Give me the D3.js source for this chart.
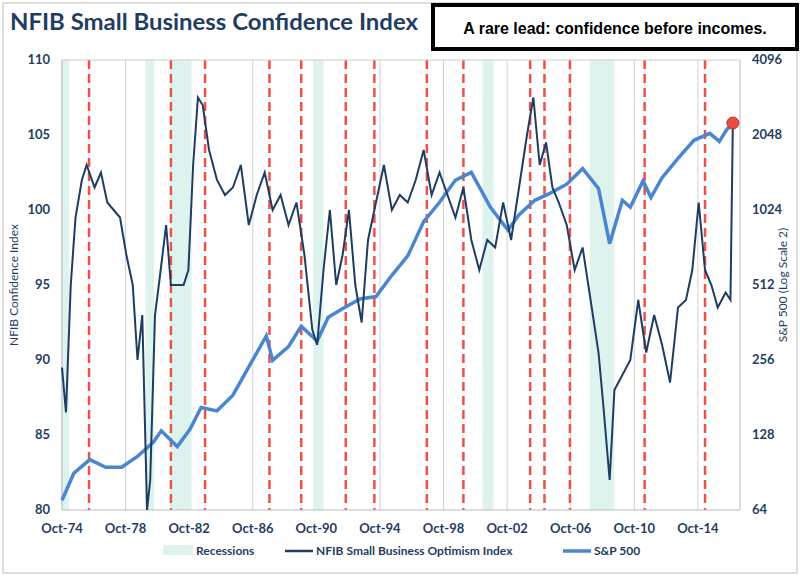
<!DOCTYPE html>
<html><head><meta charset="utf-8">
<script src="https://cdn.jsdelivr.net/npm/d3@7"></script>
<style>
body{margin:0;background:#fff;font-family:Lato,"Open Sans",sans-serif;}
</style></head><body>
<svg id="chart" width="800" height="576"></svg>
<script>
// decimal years
const recessions = [[1973.9, 1975.2], [1980.0, 1980.55], [1981.55, 1982.9], [1990.55, 1991.2], [2001.2, 2001.9], [2007.95, 2009.5]];
const redLines = [1976.45, 1981.6, 1983.75, 1987.8, 1989.8, 1992.6, 1994.4, 1997.7, 2000.0, 2004.2, 2005.1, 2006.7, 2011.4, 2015.2];

const nfibDates = [1974.75,1975.0,1975.3,1975.6,1976,1976.3,1976.8,1977.2,1977.6,1978,1978.4,1978.8,1979.2,1979.5,1979.8,1980.1,1980.3,1980.6,1980.9,1981.3,1981.6,1982,1982.4,1982.7,1983,1983.3,1983.6,1984,1984.5,1985,1985.5,1986,1986.5,1987,1987.5,1988,1988.5,1989,1989.5,1990,1990.5,1990.8,1991.2,1991.6,1992,1992.4,1992.8,1993.2,1993.6,1994,1994.5,1995,1995.5,1996,1996.5,1997,1997.5,1998,1998.5,1999,1999.5,2000,2000.5,2001,2001.5,2002,2002.5,2003,2003.5,2004,2004.4,2004.8,2005.2,2005.6,2006,2006.5,2007,2007.5,2008,2008.5,2008.8,2009.2,2009.5,2010,2010.5,2011,2011.5,2012,2012.5,2013,2013.5,2014,2014.4,2014.8,2015.2,2015.6,2016,2016.5,2016.8,2016.95];
const nfibValues = [89.5,86.5,95,99.5,102,103,101.5,102.5,100.5,100,99.5,97,95,90,93,80,82,93,95.5,99,95,95,95,96,103,107.5,107,104,102,101,101.5,103,99,101,102.5,100,101,99,100.5,97,92,91,96,100,95,97,100,95,92.5,98,100.5,103,100,101,100.5,102,104,101,102.5,101,99.5,101.5,98,96,98,97.5,100.5,98,101.5,105,107.5,103,104.5,101.5,100.5,99,96,97.5,94,90.5,87,82,88,89,90,94,90.5,93,91,88.5,93.5,94,96,100.5,96,95,93.5,94.5,94,105.8];

const spxDates = [1974.75,1975.5,1976.5,1977.5,1978.5,1979.5,1980.5,1981,1982,1982.8,1983.5,1984.5,1985.5,1986.5,1987.6,1988,1989,1989.8,1990.8,1991.5,1992.5,1993.5,1994.5,1995.5,1996.5,1997.5,1998.5,1999.5,2000.5,2001.7,2002.8,2003.5,2004.5,2005.5,2006.5,2007.5,2008.5,2009.2,2010,2010.5,2011.3,2011.8,2012.5,2013.5,2014.5,2015.5,2016.1,2016.6,2016.95];
const spxValues = [70,90,102,95,95,105,120,133,115,135,165,160,185,240,320,255,290,350,305,380,415,450,460,560,670,920,1100,1350,1450,1050,850,980,1120,1200,1300,1500,1250,750,1120,1050,1340,1150,1380,1650,1950,2080,1930,2170,2240];

const xTicks = [1974.75,1978.75,1982.75,1986.75,1990.75,1994.75,1998.75,2002.75,2006.75,2010.75,2014.75];
const xTickLabels = ["Oct-74","Oct-78","Oct-82","Oct-86","Oct-90","Oct-94","Oct-98","Oct-02","Oct-06","Oct-10","Oct-14"];
const leftTicks = [80,85,90,95,100,105,110];
const rightTicks = [64,128,256,512,1024,2048,4096];

const svg = d3.select("#chart");
const m = {left: 62, right: 740, top: 60, bottom: 510};
const navy = "#1f3d63", blue = "#4a86cf";

svg.append("rect").attr("x",3).attr("y",3).attr("width",794).attr("height",570)
  .attr("fill","#fff").attr("stroke","#bbb");

const x = d3.scaleLinear().domain([1974.75, 2017.4]).range([m.left, m.right]);
const yL = d3.scaleLinear().domain([80,110]).range([m.bottom, m.top]);
const yR = d3.scaleLog().base(2).domain([64,4096]).range([m.bottom, m.top]);

// vertical grid
svg.append("g").selectAll("line").data(xTicks).join("line")
  .attr("x1", d => x(d)).attr("x2", d => x(d)).attr("y1", m.top).attr("y2", m.bottom)
  .attr("stroke", "#d0d0d0");

// recessions
svg.append("g").selectAll("rect").data(recessions).join("rect")
  .attr("x", d => x(Math.max(d[0], 1974.75))).attr("width", d => x(d[1]) - x(Math.max(d[0], 1974.75)))
  .attr("y", m.top).attr("height", m.bottom - m.top).attr("fill", "#dff3ee");

// red dashed lines
svg.append("g").selectAll("line").data(redLines).join("line")
  .attr("x1", d => x(d)).attr("x2", d => x(d)).attr("y1", m.top).attr("y2", m.bottom)
  .attr("stroke", "#f0504a").attr("stroke-width", 2.5).attr("stroke-dasharray", "9,5");

// axes lines
svg.append("line").attr("x1", m.left).attr("x2", m.right).attr("y1", m.bottom).attr("y2", m.bottom).attr("stroke", "#bbb");
svg.append("line").attr("x1", m.left).attr("x2", m.left).attr("y1", m.top).attr("y2", m.bottom).attr("stroke", "#bbb");
svg.append("line").attr("x1", m.right).attr("x2", m.right).attr("y1", m.top).attr("y2", m.bottom).attr("stroke", "#bbb");
svg.append("line").attr("x1", m.left).attr("x2", m.right).attr("y1", m.top).attr("y2", m.top).attr("stroke", "#ccc");

const txt = (sel) => sel.attr("fill", navy).attr("font-weight", "bold").attr("font-size", 13);

svg.append("g").selectAll("text").data(leftTicks).join("text")
  .attr("x", 50).attr("y", d => yL(d) + 4).attr("text-anchor", "end").text(d => d).call(txt);
svg.append("g").selectAll("text").data(rightTicks).join("text")
  .attr("x", 752).attr("y", d => yR(d) + 4).text(d => d).call(txt);
svg.append("g").selectAll("text").data(xTicks).join("text")
  .attr("x", d => x(d)).attr("y", 533).attr("text-anchor", "middle").text((d, i) => xTickLabels[i]).call(txt);

svg.append("text").attr("transform", "translate(18,285) rotate(-90)").attr("text-anchor", "middle")
  .attr("font-size", 12).attr("fill", navy).text("NFIB Confidence Index");
svg.append("text").attr("transform", "translate(787,285) rotate(-90)").attr("text-anchor", "middle")
  .attr("font-size", 12).attr("fill", navy).text("S&P 500 (Log Scale 2)");

// lines
const spx = spxDates.map((d, i) => [d, spxValues[i]]);
const nfib = nfibDates.map((d, i) => [d, nfibValues[i]]);
svg.append("path").datum(spx).attr("fill", "none").attr("stroke", blue).attr("stroke-width", 3.5)
  .attr("d", d3.line().x(d => x(d[0])).y(d => yR(d[1])));
svg.append("path").datum(nfib).attr("fill", "none").attr("stroke", navy).attr("stroke-width", 2)
  .attr("d", d3.line().x(d => x(d[0])).y(d => yL(d[1])));
const last = nfib[nfib.length - 1];
svg.append("circle").attr("cx", x(last[0])).attr("cy", yL(last[1])).attr("r", 6)
  .attr("fill", "#e8503a").attr("stroke", "#a33").attr("stroke-width", 1);

// title
svg.append("text").attr("x", 10).attr("y", 30).attr("font-size", 23).attr("font-weight", "bold")
  .attr("fill", navy).attr("textLength", 408).attr("lengthAdjust", "spacingAndGlyphs")
  .text("NFIB Small Business Confidence Index");
svg.append("rect").attr("x", 433).attr("y", 5).attr("width", 364).attr("height", 44)
  .attr("fill", "#fff").attr("stroke", "#000").attr("stroke-width", 4);
svg.append("text").attr("x", 615).attr("y", 34).attr("text-anchor", "middle").attr("font-size", 16)
  .attr("font-weight", "bold").attr("font-family", "Liberation Sans Narrow, Arial").text("A rare lead: confidence before incomes.");

// legend
const lg = svg.append("g").attr("font-size", 12).attr("font-weight", "bold").attr("fill", navy);
lg.append("rect").attr("x", 163).attr("y", 545).attr("width", 30).attr("height", 10).attr("fill", "#dff3ee");
lg.append("text").attr("x", 196).attr("y", 555).attr("fill", navy).text("Recessions");
lg.append("line").attr("x1", 285).attr("x2", 313).attr("y1", 551).attr("y2", 551).attr("stroke", navy).attr("stroke-width", 2.5);
lg.append("text").attr("x", 316).attr("y", 555).attr("fill", navy).text("NFIB Small Business Optimism Index");
lg.append("line").attr("x1", 563).attr("x2", 591).attr("y1", 551).attr("y2", 551).attr("stroke", blue).attr("stroke-width", 3.5);
lg.append("text").attr("x", 594).attr("y", 555).attr("fill", navy).text("S&P 500");
</script></body></html>
